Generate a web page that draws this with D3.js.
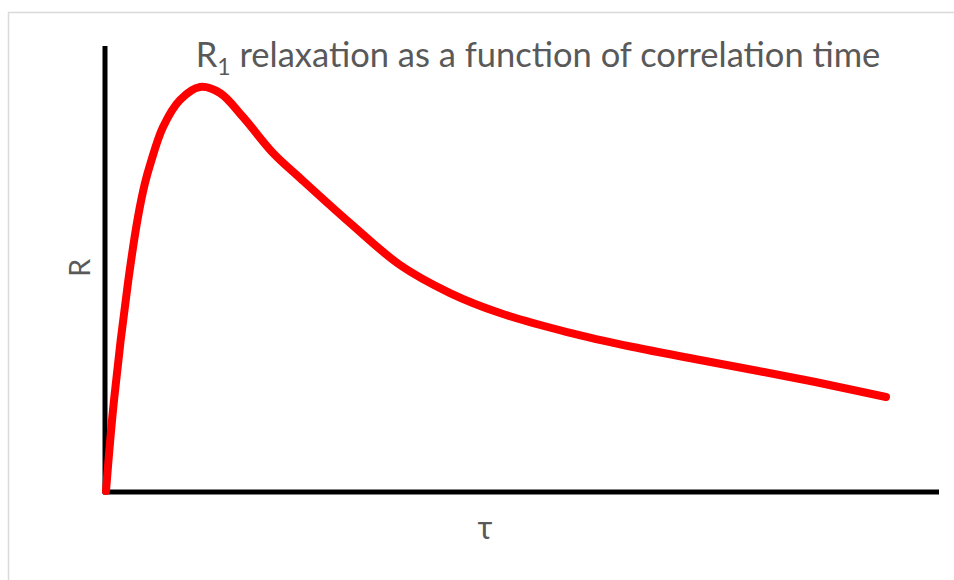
<!DOCTYPE html>
<html>
<head>
<meta charset="utf-8">
<script src="https://cdn.jsdelivr.net/npm/d3@7"></script>
<style>
  html, body { margin: 0; padding: 0; background: #fff; }
  svg { display: block; }
  text { font-family: Lato, "Open Sans", sans-serif; fill: #595959; }
</style>
</head>
<body>
<script>
// Correlation time (arbitrary units) and the R1 relaxation rate it produces
const tau = [0.024, 0.120, 0.287, 0.407, 0.491, 0.551, 0.707, 0.910, 1.150,
             1.389, 1.665, 2.024, 2.347, 2.946, 3.545, 4.144, 4.743, 5.545, 6.335,
             7.138, 8.335, 9.365];
const R = [0.000, 2.045, 4.674, 6.157, 6.921, 7.326, 8.180, 8.787, 9.079,
           8.944, 8.404, 7.596, 7.034, 6.022, 5.079, 4.449, 4.000, 3.573, 3.236,
           2.944, 2.517, 2.112];
const xLabel = "τ";
const yLabel = "R";

const W = 954, H = 580;
const svg = d3.select("body").append("svg").attr("width", W).attr("height", H);

// Outer frame
svg.append("rect")
  .attr("x", 8.5).attr("y", 12.5)
  .attr("width", W).attr("height", H)
  .attr("fill", "none").attr("stroke", "#d9d9d9").attr("stroke-width", 1.5);

const x = d3.scaleLinear().domain([0, 10]).range([104, 939]);
const y = d3.scaleLinear().domain([0, 10]).range([491, 46]);

// Axes drawn as plain heavy rules
svg.append("line")
  .attr("x1", x(0) + 1).attr("x2", x(0) + 1)
  .attr("y1", y(10)).attr("y2", y(0) + 3)
  .attr("stroke", "#000").attr("stroke-width", 5);
svg.append("line")
  .attr("x1", x(0) - 1).attr("x2", x(10))
  .attr("y1", y(0) + 1).attr("y2", y(0) + 1)
  .attr("stroke", "#000").attr("stroke-width", 5);

// R1 curve
const pts = tau.map((t, i) => [t, R[i]]);
const line = d3.line()
  .x(d => x(d[0])).y(d => y(d[1]))
  .curve(d3.curveCatmullRom.alpha(0.5));
svg.append("path")
  .datum(pts)
  .attr("d", line)
  .attr("fill", "none")
  .attr("stroke", "#ff0000")
  .attr("stroke-width", 8)
  .attr("stroke-linecap", "round")
  .attr("stroke-linejoin", "round");

// Title with subscript
const title = svg.append("text")
  .attr("x", 538).attr("y", 67)
  .attr("text-anchor", "middle")
  .style("font-size", "34.5px");
title.append("tspan").text("R");
title.append("tspan").attr("dy", 8).style("font-size", "23px").text("1");
title.append("tspan").attr("dy", -8).text(" relaxation as a function of correlation time");

// Axis titles
svg.append("text")
  .attr("transform", "translate(90,268) rotate(-90)")
  .attr("text-anchor", "middle")
  .style("font-size", "29px")
  .text(yLabel);
svg.append("text")
  .attr("x", 485).attr("y", 539)
  .attr("text-anchor", "middle")
  .style("font-size", "32px")
  .text(xLabel);
</script>
</body>
</html>
